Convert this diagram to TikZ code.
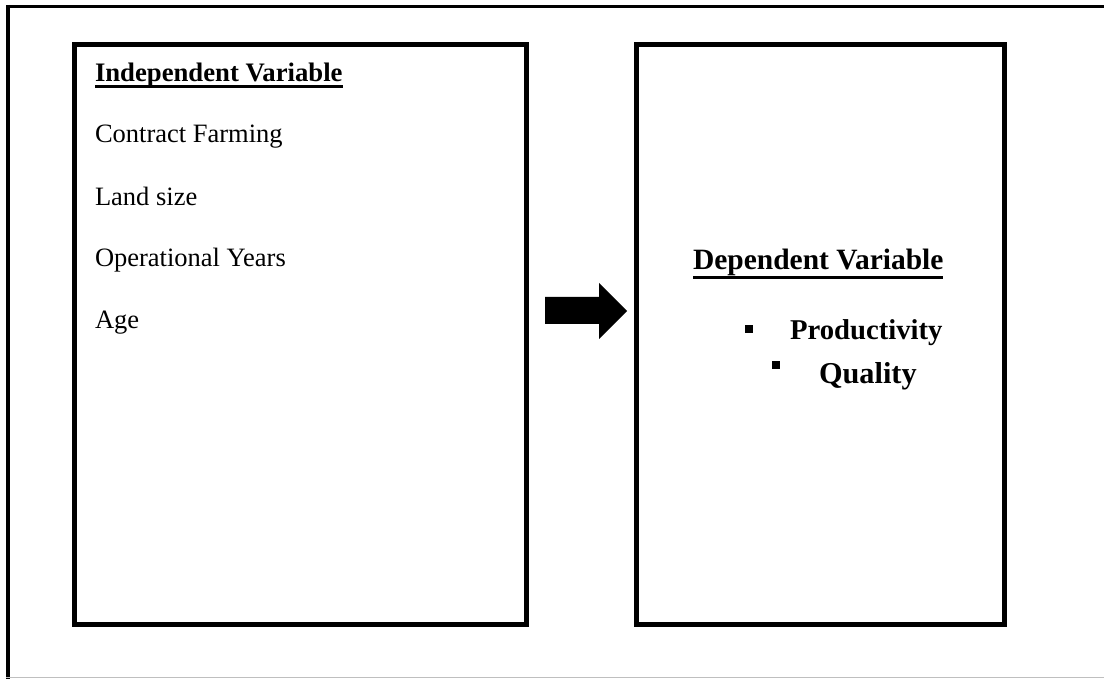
\documentclass[tikz,border=0pt]{standalone}
\usepackage{fontspec}
\setmainfont{Liberation Serif}
\usetikzlibrary{calc}
\tikzset{
  boxframe/.style={draw=black, line width=5pt, line join=miter},
  lbl/.style={anchor=base west, inner sep=0pt, outer sep=0pt},
  reg/.style={lbl, font=\fontsize{26.5}{30}\selectfont},
  bullet/.style={fill=black, inner sep=0pt, minimum size=8pt, rectangle},
  uline/.style={line width=2.8pt},
}
\begin{document}
\begin{tikzpicture}[x=1pt,y=-1pt]
\useasboundingbox (0,0) rectangle (1104,679);
% outer frame
\draw[line width=3pt] (8,6.5) -- (1104,6.5);
\draw[line width=4pt] (8,5) -- (8,679);
\draw[line width=1pt, color=black!25] (6,677.5) -- (1104,677.5);
% boxes
\draw[boxframe] (74.5,44.5) rectangle (526,624.5);
\draw[boxframe] (636.5,44.5) rectangle (1004,624.5);
% left texts
\node[lbl, font=\fontsize{26.7}{30}\selectfont\bfseries] (ind) at (95,81.5) {Independent Variable};
\draw[uline] ($(ind.base west)+(0,5.2)$) -- ($(ind.base east)+(0,5.2)$);
\node[reg] (cf) at (95,142.5) {Contract Farming};
\node[reg] (ls) at (95,205.5) {Land size};
\node[reg] (oy) at (95,266.5) {Operational Years};
\node[reg] (age) at (95,328.5) {Age};
% arrow
\fill (545,297) -- (599,297) -- (599,283) -- (627,311) -- (599,339) -- (599,324) -- (545,324) -- cycle;
% right texts
\node[lbl, font=\fontsize{29.5}{32}\selectfont\bfseries] (dep) at (693,270) {Dependent Variable};
\draw[uline] ($(dep.base west)+(0,7.5)$) -- ($(dep.base east)+(0,7.5)$);
\node[bullet] (b1) at (749,329) {};
\node[lbl, font=\fontsize{28.7}{32}\selectfont\bfseries] (prod) at (790,340) {Productivity};
\node[bullet] (b2) at (776,364.5) {};
\node[lbl, font=\fontsize{30.3}{33}\selectfont\bfseries] (qual) at (819,383) {Quality};
\end{tikzpicture}
\end{document}
